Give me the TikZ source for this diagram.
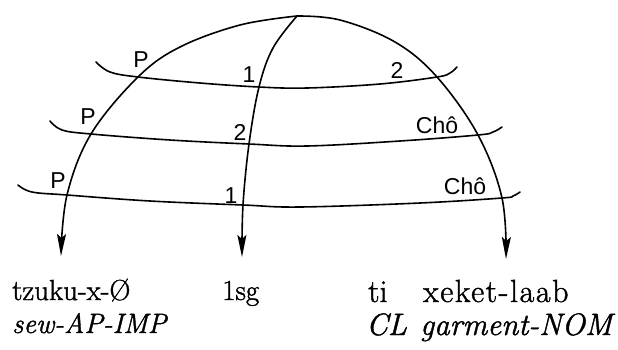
\documentclass[tikz,border=0pt]{standalone}
\usepackage{fontspec}
\setmainfont{Latin Modern Roman}[FakeBold=1.3]
\newfontfamily\labfont{Liberation Sans}
\usetikzlibrary{arrows.meta}
\begin{document}
\begin{tikzpicture}[x=1pt,y=-1pt,
  curve/.style={line width=1.6pt, line cap=round, line join=round},
  arr/.style={curve, -{Stealth[length=22pt,width=9pt,inset=4pt]}},
  lab/.style={font=\labfont\fontsize{23}{26}\selectfont, inner sep=0pt},
  word/.style={font=\fontsize{29}{32}\selectfont, inner sep=0pt, anchor=base west},
  wordi/.style={font=\fontsize{28}{32}\selectfont\itshape, inner sep=0pt, anchor=base west},
  wordr/.style={font=\fontsize{32}{34}\selectfont, inner sep=0pt, anchor=base west},
  wordri/.style={font=\fontsize{31}{34}\selectfont\itshape, inner sep=0pt, anchor=base west}]
\useasboundingbox (0,0) rectangle (618,349);
% meeting point and arrow ends
\coordinate (top) at (297,16);
\coordinate (lend) at (61,256);
\coordinate (mend) at (242,257);
\coordinate (rend) at (506,259);
% arcs
\draw[arr] plot[smooth, tension=0.6] coordinates {(top) (240,25) (180,47) (138,77) (91,134) (67,195) (lend)};
\draw[arr] plot[smooth, tension=0.6] coordinates {(top) (340,20) (395,42) (437,77) (478,135) (502,198) (rend)};
\draw[arr] plot[smooth, tension=0.6] coordinates {(top) (273,48) (259,87) (249,144) (243,205) (mend)};
% latitude lines
\draw[curve] plot[smooth, tension=0.6] coordinates {(96,62) (110,72) (138,77) (200,83) (259,87) (307,88) (380,84) (437,77) (450,73) (457,67)};
\draw[curve] plot[smooth, tension=0.6] coordinates {(50,121) (62,130) (91,134) (170,140) (249,144) (307,146) (400,141) (478,135) (493,132) (502,127)};
\draw[curve] plot[smooth, tension=0.6] coordinates {(18,185) (32,192) (67,195) (150,201) (243,205) (300,207) (420,203) (502,198) (513,196) (520,192)};
% labels
\node[lab] (p1) at (141,60) {P};
\node[lab] (a1) at (249,75) {1};
\node[lab] (b1) at (397,70) {2};
\node[lab] (p2) at (88,117) {P};
\node[lab] (a2) at (240,132) {2};
\node[lab] (c2) at (437,125) {Chô};
\node[lab] (p3) at (58,181) {P};
\node[lab] (a3) at (231,196) {1};
\node[lab] (c3) at (465,186) {Chô};
% glosses
\node[word] (w1) at (12,300) {tzuku-x-Ø};
\node[wordi] (g1) at (12,333) {sew-AP-IMP};
\node[word] (w2) at (222,300) {1sg};
\node[wordr] (w3) at (368,302) {ti};
\node[wordr] (w4) at (423,302) {\addfontfeature{LetterSpace=5}xeket-laab};
\node[wordri] (g3) at (366,335) {CL};
\node[wordri] (g4) at (420,335) {garment-NOM};
\end{tikzpicture}
\end{document}
